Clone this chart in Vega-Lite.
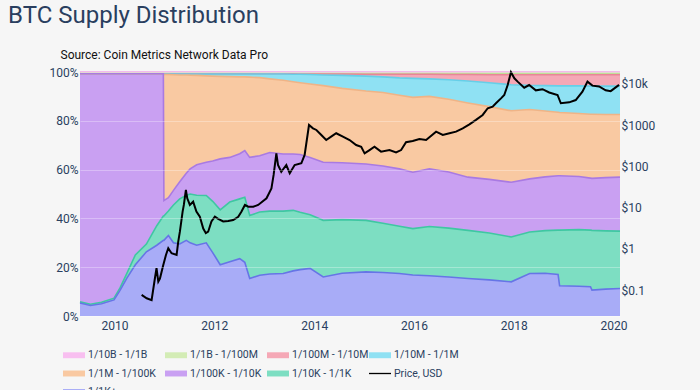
{
  "$schema": "https://vega.github.io/schema/vega-lite/v6.json",
  "width": 540,
  "height": 244,
  "autosize": {"type": "none"},
  "padding": {"left": 80, "top": 72, "right": 80, "bottom": 74},
  "background": "#f6f6f6",
  "config": {"view": {"stroke": null}, "font": "Roboto"},
  "title": {
    "text": "BTC Supply Distribution",
    "anchor": "start",
    "frame": "group",
    "dx": -72,
    "offset": 20,
    "font": "Roboto",
    "fontSize": 24,
    "fontWeight": "normal",
    "color": "#2a3f5f"
  },
  "datasets": {
    "bands": [
      {"date": "2009-04-23", "s1": 0.5, "s2": 0.2, "s3": 0, "s4": 0, "s5": 0, "s6": 93.5, "s7": 0.5, "s8": 5.3},
      {"date": "2009-07-08", "s1": 0.5, "s2": 0.2, "s3": 0, "s4": 0, "s5": 0, "s6": 94.5, "s7": 0.5, "s8": 4.3},
      {"date": "2009-09-27", "s1": 0.5, "s2": 0.2, "s3": 0, "s4": 0, "s5": 0, "s6": 93.7, "s7": 0.6, "s8": 5.0},
      {"date": "2009-12-28", "s1": 0.5, "s2": 0.2, "s3": 0, "s4": 0, "s5": 0, "s6": 92.0, "s7": 0.7, "s8": 6.6},
      {"date": "2010-02-10", "s1": 0.5, "s2": 0.2, "s3": 0, "s4": 0, "s5": 0, "s6": 87.8, "s7": 1.0, "s8": 10.5},
      {"date": "2010-04-01", "s1": 0.5, "s2": 0.2, "s3": 0, "s4": 0, "s5": 0, "s6": 81.8, "s7": 2.0, "s8": 15.5},
      {"date": "2010-06-02", "s1": 0.5, "s2": 0.2, "s3": 0, "s4": 0, "s5": 0, "s6": 74.3, "s7": 4.0, "s8": 21.0},
      {"date": "2010-08-22", "s1": 0.5, "s2": 0.2, "s3": 0, "s4": 0, "s5": 0, "s6": 69.8, "s7": 3.2, "s8": 26.3},
      {"date": "2010-11-06", "s1": 0.5, "s2": 0.2, "s3": 0, "s4": 0, "s5": 0, "s6": 62.3, "s7": 8.0, "s8": 29.0},
      {"date": "2010-12-24", "s1": 0.5, "s2": 0.2, "s3": 0, "s4": 0, "s5": 0, "s6": 58.3, "s7": 10.0, "s8": 31.0},
      {"date": "2010-12-28", "s1": 0.5, "s2": 0.2, "s3": 0.1, "s4": 0.2, "s5": 51.7, "s6": 6.3, "s7": 10.0, "s8": 31.0},
      {"date": "2011-01-30", "s1": 0.5, "s2": 0.2, "s3": 0.1, "s4": 0.2, "s5": 50.5, "s6": 5.5, "s7": 10.0, "s8": 33.0},
      {"date": "2011-03-08", "s1": 0.5, "s2": 0.2, "s3": 0.1, "s4": 0.3, "s5": 47.4, "s6": 6.0, "s7": 15.5, "s8": 30.0},
      {"date": "2011-04-23", "s1": 0.5, "s2": 0.2, "s3": 0.1, "s4": 0.4, "s5": 43.8, "s6": 7.0, "s7": 18.5, "s8": 29.5},
      {"date": "2011-06-10", "s1": 0.5, "s2": 0.2, "s3": 0.1, "s4": 0.4, "s5": 40.3, "s6": 9.0, "s7": 18.5, "s8": 31.0},
      {"date": "2011-07-08", "s1": 0.5, "s2": 0.2, "s3": 0.1, "s4": 0.5, "s5": 38.4, "s6": 10.3, "s7": 20.0, "s8": 30.0},
      {"date": "2011-08-25", "s1": 0.5, "s2": 0.2, "s3": 0.1, "s4": 0.6, "s5": 36.6, "s6": 12.5, "s7": 20.5, "s8": 29.0},
      {"date": "2011-11-03", "s1": 0.5, "s2": 0.2, "s3": 0.1, "s4": 0.8, "s5": 35.4, "s6": 13.6, "s7": 19.4, "s8": 30.0},
      {"date": "2011-12-20", "s1": 0.5, "s2": 0.2, "s3": 0.1, "s4": 0.9, "s5": 34.8, "s6": 16.5, "s7": 21.0, "s8": 26.0},
      {"date": "2012-02-13", "s1": 0.5, "s2": 0.2, "s3": 0.1, "s4": 1.0, "s5": 33.8, "s6": 20.9, "s7": 22.5, "s8": 21.0},
      {"date": "2012-04-23", "s1": 0.5, "s2": 0.2, "s3": 0.1, "s4": 1.1, "s5": 33.1, "s6": 18.3, "s7": 24.5, "s8": 22.2},
      {"date": "2012-07-05", "s1": 0.5, "s2": 0.2, "s3": 0.1, "s4": 1.2, "s5": 31.5, "s6": 18.5, "s7": 24.5, "s8": 23.5},
      {"date": "2012-08-11", "s1": 0.5, "s2": 0.2, "s3": 0.1, "s4": 1.2, "s5": 30.2, "s6": 19.1, "s7": 26.7, "s8": 22.0},
      {"date": "2012-09-16", "s1": 0.5, "s2": 0.2, "s3": 0.1, "s4": 1.3, "s5": 32.9, "s6": 23.8, "s7": 25.8, "s8": 15.4},
      {"date": "2012-11-28", "s1": 0.5, "s2": 0.2, "s3": 0.1, "s4": 1.5, "s5": 32.0, "s6": 23.1, "s7": 25.9, "s8": 16.7},
      {"date": "2013-02-10", "s1": 0.5, "s2": 0.2, "s3": 0.1, "s4": 2.0, "s5": 30.2, "s6": 24.0, "s7": 25.8, "s8": 17.2},
      {"date": "2013-05-19", "s1": 0.5, "s2": 0.2, "s3": 0.1, "s4": 2.6, "s5": 30.2, "s6": 23.4, "s7": 25.6, "s8": 17.4},
      {"date": "2013-07-31", "s1": 0.5, "s2": 0.2, "s3": 0.2, "s4": 3.1, "s5": 29.6, "s6": 23.1, "s7": 24.8, "s8": 18.5},
      {"date": "2013-09-20", "s1": 0.5, "s2": 0.3, "s3": 0.1, "s4": 3.5, "s5": 29.4, "s6": 23.7, "s7": 23.5, "s8": 19.0},
      {"date": "2013-12-02", "s1": 0.5, "s2": 0.3, "s3": 0.2, "s4": 3.9, "s5": 30.1, "s6": 23.5, "s7": 22.0, "s8": 19.5},
      {"date": "2014-03-08", "s1": 0.5, "s2": 0.3, "s3": 0.4, "s4": 4.4, "s5": 31.4, "s6": 23.8, "s7": 23.2, "s8": 16.0},
      {"date": "2014-07-24", "s1": 0.5, "s2": 0.3, "s3": 0.6, "s4": 5.3, "s5": 30.5, "s6": 23.3, "s7": 22.0, "s8": 17.5},
      {"date": "2015-01-15", "s1": 0.5, "s2": 0.4, "s3": 0.8, "s4": 6.1, "s5": 29.9, "s6": 23.1, "s7": 21.1, "s8": 18.1},
      {"date": "2015-05-19", "s1": 0.5, "s2": 0.4, "s3": 1.1, "s4": 6.4, "s5": 30.1, "s6": 23.5, "s7": 20.2, "s8": 17.8},
      {"date": "2015-09-17", "s1": 0.5, "s2": 0.4, "s3": 1.5, "s4": 7.1, "s5": 30.2, "s6": 23.5, "s7": 19.4, "s8": 17.4},
      {"date": "2015-12-24", "s1": 0.5, "s2": 0.4, "s3": 1.7, "s4": 7.8, "s5": 30.7, "s6": 23.1, "s7": 19.0, "s8": 16.8},
      {"date": "2016-04-23", "s1": 0.5, "s2": 0.4, "s3": 1.9, "s4": 7.2, "s5": 29.7, "s6": 23.6, "s7": 20.2, "s8": 16.5},
      {"date": "2016-09-12", "s1": 0.5, "s2": 0.5, "s3": 2.2, "s4": 8.0, "s5": 29.8, "s6": 23.0, "s7": 20.0, "s8": 16.0},
      {"date": "2017-01-30", "s1": 0.5, "s2": 0.5, "s3": 2.7, "s4": 9.0, "s5": 30.4, "s6": 21.8, "s7": 19.7, "s8": 15.4},
      {"date": "2017-07-05", "s1": 0.5, "s2": 0.6, "s3": 3.3, "s4": 9.8, "s5": 29.8, "s6": 22.0, "s7": 19.2, "s8": 14.8},
      {"date": "2017-12-13", "s1": 0.5, "s2": 0.6, "s3": 4.1, "s4": 10.7, "s5": 29.3, "s6": 22.4, "s7": 18.4, "s8": 14.0},
      {"date": "2018-04-27", "s1": 0.5, "s2": 0.6, "s3": 4.4, "s4": 9.9, "s5": 28.4, "s6": 21.8, "s7": 17.0, "s8": 17.4},
      {"date": "2018-08-18", "s1": 0.5, "s2": 0.6, "s3": 4.5, "s4": 10.4, "s5": 27.0, "s6": 22.0, "s7": 17.5, "s8": 17.5},
      {"date": "2018-11-21", "s1": 0.5, "s2": 0.6, "s3": 4.6, "s4": 10.8, "s5": 26.0, "s6": 22.3, "s7": 18.2, "s8": 17.0},
      {"date": "2018-12-02", "s1": 0.5, "s2": 0.6, "s3": 4.6, "s4": 10.9, "s5": 25.9, "s6": 22.3, "s7": 22.8, "s8": 12.4},
      {"date": "2019-04-23", "s1": 0.5, "s2": 0.6, "s3": 4.6, "s4": 11.3, "s5": 25.8, "s6": 21.8, "s7": 23.2, "s8": 12.2},
      {"date": "2019-07-16", "s1": 0.5, "s2": 0.6, "s3": 4.7, "s4": 11.5, "s5": 26.2, "s6": 21.3, "s7": 23.2, "s8": 12.0},
      {"date": "2019-07-27", "s1": 0.5, "s2": 0.6, "s3": 4.7, "s4": 11.5, "s5": 26.3, "s6": 21.3, "s7": 24.5, "s8": 10.6},
      {"date": "2019-11-03", "s1": 0.5, "s2": 0.6, "s3": 4.7, "s4": 11.6, "s5": 25.9, "s6": 21.8, "s7": 23.9, "s8": 11.0},
      {"date": "2020-02-17", "s1": 0.5, "s2": 0.6, "s3": 4.7, "s4": 11.6, "s5": 25.7, "s6": 22.1, "s7": 23.5, "s8": 11.3}
    ],
    "price": [
      {"date": "2010-07-18", "price": 0.076},
      {"date": "2010-08-24", "price": 0.063},
      {"date": "2010-09-29", "price": 0.057},
      {"date": "2010-10-23", "price": 0.19},
      {"date": "2010-11-04", "price": 0.34},
      {"date": "2010-11-17", "price": 0.16},
      {"date": "2010-11-29", "price": 0.19},
      {"date": "2010-12-23", "price": 0.4},
      {"date": "2011-01-12", "price": 0.71},
      {"date": "2011-01-29", "price": 1.03},
      {"date": "2011-02-22", "price": 0.78},
      {"date": "2011-03-31", "price": 0.71},
      {"date": "2011-04-12", "price": 1.5},
      {"date": "2011-04-24", "price": 2.6},
      {"date": "2011-05-14", "price": 8.0},
      {"date": "2011-05-23", "price": 11.6},
      {"date": "2011-06-07", "price": 26.7},
      {"date": "2011-06-17", "price": 16.8},
      {"date": "2011-07-06", "price": 11.6},
      {"date": "2011-07-30", "price": 13.9},
      {"date": "2011-08-23", "price": 8.0},
      {"date": "2011-09-17", "price": 6.0},
      {"date": "2011-10-12", "price": 3.1},
      {"date": "2011-10-31", "price": 2.4},
      {"date": "2011-11-17", "price": 2.6},
      {"date": "2011-12-11", "price": 4.6},
      {"date": "2012-01-05", "price": 6.0},
      {"date": "2012-01-29", "price": 5.3},
      {"date": "2012-03-06", "price": 4.6},
      {"date": "2012-04-12", "price": 4.7},
      {"date": "2012-05-18", "price": 5.0},
      {"date": "2012-06-24", "price": 6.0},
      {"date": "2012-07-18", "price": 8.0},
      {"date": "2012-08-12", "price": 11.6},
      {"date": "2012-09-05", "price": 10.5},
      {"date": "2012-10-12", "price": 10.5},
      {"date": "2012-11-17", "price": 11.6},
      {"date": "2013-01-17", "price": 16.8},
      {"date": "2013-02-22", "price": 29},
      {"date": "2013-03-10", "price": 62},
      {"date": "2013-03-30", "price": 208},
      {"date": "2013-04-11", "price": 108},
      {"date": "2013-05-05", "price": 74},
      {"date": "2013-06-11", "price": 108},
      {"date": "2013-07-06", "price": 68},
      {"date": "2013-08-11", "price": 108},
      {"date": "2013-09-29", "price": 119},
      {"date": "2013-10-23", "price": 189},
      {"date": "2013-11-24", "price": 1010},
      {"date": "2013-12-23", "price": 840},
      {"date": "2014-01-17", "price": 765},
      {"date": "2014-02-22", "price": 578},
      {"date": "2014-03-30", "price": 437},
      {"date": "2014-05-05", "price": 526},
      {"date": "2014-06-11", "price": 636},
      {"date": "2014-07-30", "price": 526},
      {"date": "2014-09-17", "price": 437},
      {"date": "2014-11-04", "price": 330},
      {"date": "2014-12-11", "price": 300},
      {"date": "2015-01-05", "price": 207},
      {"date": "2015-02-10", "price": 249},
      {"date": "2015-03-18", "price": 300},
      {"date": "2015-05-05", "price": 228},
      {"date": "2015-07-06", "price": 249},
      {"date": "2015-08-23", "price": 219},
      {"date": "2015-09-29", "price": 249},
      {"date": "2015-11-04", "price": 385},
      {"date": "2015-12-23", "price": 414},
      {"date": "2016-02-10", "price": 463},
      {"date": "2016-03-30", "price": 437},
      {"date": "2016-06-11", "price": 695},
      {"date": "2016-07-30", "price": 578},
      {"date": "2016-09-17", "price": 636},
      {"date": "2016-11-04", "price": 695},
      {"date": "2016-12-23", "price": 840},
      {"date": "2017-02-10", "price": 1050},
      {"date": "2017-03-30", "price": 1340},
      {"date": "2017-05-18", "price": 1770},
      {"date": "2017-06-24", "price": 2570},
      {"date": "2017-07-30", "price": 2820},
      {"date": "2017-08-23", "price": 3400},
      {"date": "2017-09-29", "price": 4470},
      {"date": "2017-10-23", "price": 5400},
      {"date": "2017-11-17", "price": 9400},
      {"date": "2017-12-11", "price": 19200},
      {"date": "2018-01-05", "price": 13700},
      {"date": "2018-01-29", "price": 11400},
      {"date": "2018-03-18", "price": 8100},
      {"date": "2018-04-23", "price": 9400},
      {"date": "2018-06-11", "price": 7000},
      {"date": "2018-07-30", "price": 7450},
      {"date": "2018-09-17", "price": 6200},
      {"date": "2018-11-17", "price": 5400},
      {"date": "2018-12-11", "price": 3400},
      {"date": "2019-02-10", "price": 3580},
      {"date": "2019-03-30", "price": 4070},
      {"date": "2019-05-18", "price": 6500},
      {"date": "2019-06-24", "price": 11400},
      {"date": "2019-07-30", "price": 9100},
      {"date": "2019-09-17", "price": 8700},
      {"date": "2019-11-04", "price": 7000},
      {"date": "2019-12-11", "price": 6700},
      {"date": "2020-02-10", "price": 9500}
    ]
  },
  "layer": [
    {
      "data": {"name": "bands"},
      "transform": [{"fold": ["s1", "s2", "s3", "s4", "s5", "s6", "s7", "s8"], "as": ["band", "pct"]}],
      "layer": [
        {
          "mark": {"type": "area", "opacity": 1},
          "encoding": {
            "x": {
              "field": "date", "type": "temporal",
              "scale": {"type": "utc", "domain": [{"year": 2009, "month": 4, "date": 23, "utc": true}, {"year": 2020, "month": 2, "date": 17, "utc": true}]},
              "axis": {
                "values": [{"year": 2010, "utc": true}, {"year": 2012, "utc": true}, {"year": 2014, "utc": true}, {"year": 2016, "utc": true}, {"year": 2018, "utc": true}, {"year": 2020, "utc": true}],
                "format": "%Y", "title": null, "ticks": false, "domain": false, "grid": false,
                "labelPadding": 4, "labelFont": "Roboto", "labelFontSize": 12, "labelColor": "#2a3f5f"
              }
            },
            "y": {
              "field": "pct", "type": "quantitative", "stack": "zero",
              "scale": {"domain": [0, 100], "nice": false},
              "axis": {
                "values": [0, 20, 40, 60, 80, 100], "labelExpr": "datum.value + '%'",
                "title": "Source: Coin Metrics Network Data Pro",
                "titleAngle": 0, "titleAlign": "left", "titleBaseline": "alphabetic",
                "titleX": -20, "titleY": -14,
                "titleFont": "Roboto", "titleFontSize": 12, "titleFontWeight": "normal", "titleColor": "#111111",
                "ticks": false, "domain": false, "grid": true,
                "gridColor": "#ffffff", "gridOpacity": 0.3, "zindex": 1,
                "labelPadding": 2, "labelFont": "Roboto", "labelFontSize": 12, "labelColor": "#2a3f5f"
              }
            },
            "color": {
              "field": "band", "type": "nominal",
              "scale": {
                "domain": ["s1", "s2", "s3", "s4", "s5", "s6", "s7", "price", "s8"],
                "range": ["#f8bff0", "#d3ecb5", "#f5a8b6", "#8fe1f3", "#f9c9a2", "#c9a0f2", "#7ddec2", "#000000", "#a8acf7"]
              },
              "legend": {
                "orient": "none", "legendX": -17, "legendY": 272,
                "direction": "horizontal", "columns": 4, "title": null,
                "symbolType": "M-1,-0.27H1V0.27H-1Z", "symbolSize": 484, "symbolStrokeWidth": 0, "symbolOpacity": 1,
                "labelFont": "Roboto", "labelFontSize": 10.5, "labelColor": "#2a3f5f", "labelOffset": 3, "labelLimit": 200,
                "columnPadding": -3, "rowPadding": 1.5, "gridAlign": "all",
                "labelExpr": "{'s1': '1/10B - 1/1B', 's2': '1/1B - 1/100M', 's3': '1/100M - 1/10M', 's4': '1/10M - 1/1M', 's5': '1/1M - 1/100K', 's6': '1/100K - 1/10K', 's7': '1/10K - 1/1K', 'price': 'Price, USD', 's8': '1/1K+'}[datum.value]",
                "encode": {
                  "symbols": {
                    "update": {
                      "shape": {"signal": "datum.value === 'price' ? 'M-1,-0.06H1V0.06H-1Z' : 'M-1,-0.27H1V0.27H-1Z'"},
                      "fill": {"scale": "color", "field": "value"},
                      "fillOpacity": {"value": 1},
                      "strokeWidth": {"value": 0}
                    }
                  }
                }
              }
            },
            "order": {"field": "band", "sort": "descending"}
          }
        },
        {
          "mark": {"type": "line", "strokeWidth": 1.6},
          "encoding": {
            "x": {"field": "date", "type": "temporal"},
            "y": {"field": "pct", "type": "quantitative", "stack": "zero"},
            "stroke": {
              "field": "band", "type": "nominal",
              "scale": {
                "domain": ["s1", "s2", "s3", "s4", "s5", "s6", "s7", "s8"],
                "range": ["#f3a6e8", "#bfe098", "#ea8598", "#66cfe8", "#efb487", "#a97ae2", "#3fc7a2", "#6675e6"]
              },
              "legend": null
            }
          }
        }
      ]
    },
    {
      "data": {"name": "price"},
      "mark": {"type": "line", "strokeWidth": 2},
      "encoding": {
        "x": {"field": "date", "type": "temporal"},
        "y": {
          "field": "price", "type": "quantitative",
          "scale": {"type": "log", "domain": [0.0234, 19500], "nice": false},
          "axis": {
            "orient": "right", "values": [0.1, 1, 10, 100, 1000, 10000],
            "labelExpr": "datum.value >= 10000 ? '$10k' : '$' + datum.value",
            "title": null, "ticks": false, "domain": false, "grid": false,
            "labelPadding": 1, "labelFont": "Roboto", "labelFontSize": 12, "labelColor": "#2a3f5f"
          }
        },
        "color": {"datum": "price"}
      }
    }
  ],
  "resolve": {"scale": {"y": "independent"}}
}
